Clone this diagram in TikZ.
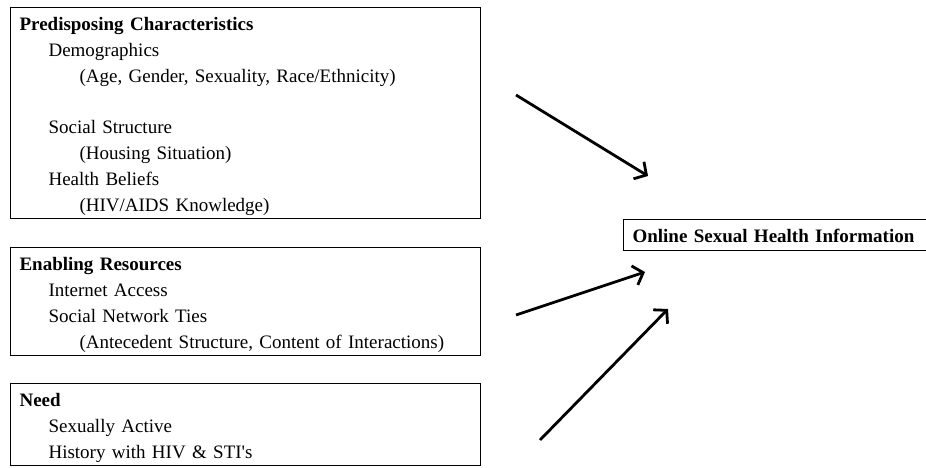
\documentclass[tikz,border=0pt]{standalone}
\usepackage{fontspec}
\setmainfont{Liberation Serif}
\usepackage{tikz}
\usetikzlibrary{arrows.meta,positioning}
\newcommand{\firstline}{\rule{0pt}{20.5pt}}
\newcommand{\lastline}{\rule[-5pt]{0pt}{5pt}}
\newcommand{\lvone}{\hspace*{29pt}}
\newcommand{\lvtwo}{\hspace*{60pt}}
\tikzstyle{factor} = [rectangle, draw, line width=1.1pt, align=left, text width=452pt, inner xsep=9pt, inner ysep=2.5pt, anchor=north west, font=\fontsize{19}{25.8}\selectfont]
\tikzstyle{outcome} = [rectangle, draw, line width=1.1pt, align=left, text width=292pt, inner xsep=9pt, inner ysep=2.5pt, anchor=north west, font=\fontsize{19}{25.8}\selectfont\bfseries]
\tikzstyle{link} = [line width=2.8pt, -{Straight Barb[length=9pt,width=20pt]}]

\begin{document}
\begin{tikzpicture}[x=1pt, y=-1pt]
  \useasboundingbox (0,0) rectangle (926,468);
  \node[factor] (pred) at (10,7) {\firstline\textbf{Predisposing Characteristics}\\ \lvone Demographics\\ \lvtwo(Age, Gender, Sexuality, Race/Ethnicity)\\[25.8pt] \lvone Social Structure\\ \lvtwo(Housing Situation)\\ \lvone Health Beliefs\\ \lvtwo(HIV/AIDS Knowledge)\lastline};
  \node[factor] (enab) [below right=28pt and 0pt of pred.south west] {\firstline\textbf{Enabling Resources}\\ \lvone Internet Access\\ \lvone Social Network Ties\\ \lvtwo(Antecedent Structure, Content of Interactions)\lastline};
  \node[factor] (need) [below right=27pt and 0pt of enab.south west] {\firstline\textbf{Need}\\ \lvone Sexually Active\\ \lvone History with HIV \& STI\textquotesingle s\lastline};
  \node[outcome] (info) at (623,219) {\firstline Online Sexual Health Information\lastline};
  \coordinate (p1) at (516,95);
  \coordinate (q1) at (648,176);
  \coordinate (p2) at (516,315);
  \coordinate (q2) at (645,272);
  \coordinate (p3) at (540,440);
  \coordinate (q3) at (668,309);
  \draw[link] (p1) -- (q1);
  \draw[link] (p2) -- (q2);
  \draw[link] (p3) -- (q3);
\end{tikzpicture}
\end{document}
